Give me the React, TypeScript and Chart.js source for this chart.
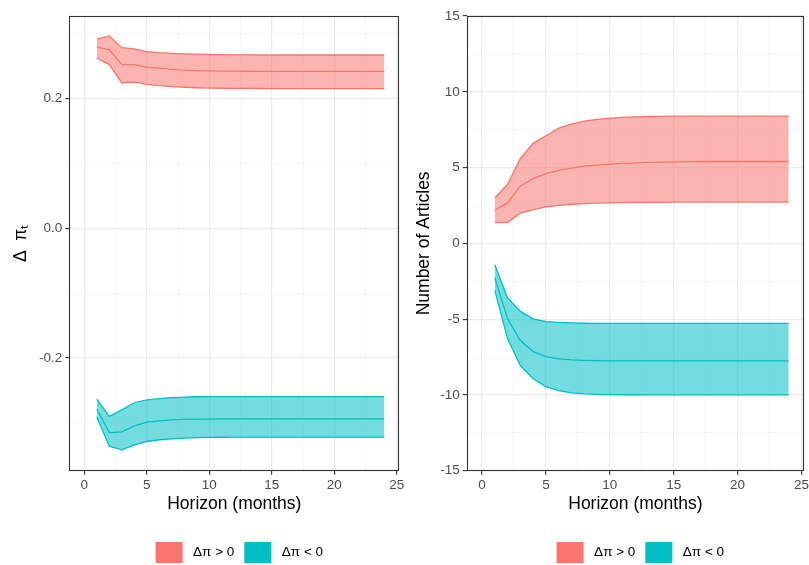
import React, { useEffect, useRef } from "react";
import { Chart, registerables } from "chart.js";

Chart.register(...registerables);

// ---------- data ----------
const horizon = [1, 2, 3, 4, 5, 6, 7, 8, 9, 10, 11, 12, 13, 14, 15, 16, 17, 18, 19, 20, 21, 22, 23, 24];

// Left panel: Δπ_t
const leftPosUpper = [0.291, 0.296, 0.278, 0.276, 0.272, 0.2703, 0.2693, 0.2686, 0.268, 0.2675, 0.2672, 0.267, 0.2668, 0.2667, 0.2667, 0.2667, 0.2667, 0.2667, 0.2667, 0.2667, 0.2667, 0.2667, 0.2667, 0.2667];
const leftPosMean = [0.279, 0.275, 0.252, 0.252, 0.248, 0.2466, 0.2445, 0.2435, 0.2428, 0.2423, 0.242, 0.2418, 0.2417, 0.2416, 0.2415, 0.2415, 0.2415, 0.2415, 0.2415, 0.2415, 0.2415, 0.2415, 0.2415, 0.2415];
const leftPosLower = [0.262, 0.252, 0.224, 0.225, 0.2215, 0.2195, 0.218, 0.217, 0.2163, 0.2158, 0.2155, 0.2153, 0.2152, 0.2151, 0.215, 0.215, 0.215, 0.215, 0.215, 0.215, 0.215, 0.215, 0.215, 0.215];
const leftNegUpper = [-0.2636, -0.29, -0.28, -0.269, -0.2646, -0.2626, -0.261, -0.2603, -0.2598, -0.2596, -0.2595, -0.2595, -0.2595, -0.2595, -0.2595, -0.2595, -0.2595, -0.2595, -0.2595, -0.2595, -0.2595, -0.2595, -0.2595, -0.2595];
const leftNegMean = [-0.279, -0.315, -0.314, -0.3046, -0.299, -0.297, -0.2954, -0.2947, -0.2943, -0.2941, -0.294, -0.294, -0.294, -0.294, -0.294, -0.294, -0.294, -0.294, -0.294, -0.294, -0.294, -0.294, -0.294, -0.294];
const leftNegLower = [-0.291, -0.336, -0.3415, -0.334, -0.3287, -0.326, -0.3246, -0.3235, -0.3228, -0.3224, -0.3222, -0.3221, -0.322, -0.322, -0.322, -0.322, -0.322, -0.322, -0.322, -0.322, -0.322, -0.322, -0.322, -0.322];

// Right panel: Number of Articles
const rightPosUpper = [2.99, 3.9, 5.6, 6.6, 7.1, 7.6, 7.87, 8.06, 8.18, 8.26, 8.31, 8.35, 8.37, 8.38, 8.39, 8.4, 8.4, 8.4, 8.4, 8.4, 8.4, 8.4, 8.4, 8.4];
const rightPosMean = [2.18, 2.67, 3.79, 4.27, 4.6, 4.82, 4.96, 5.09, 5.16, 5.22, 5.27, 5.31, 5.34, 5.36, 5.38, 5.39, 5.4, 5.4, 5.4, 5.4, 5.4, 5.4, 5.4, 5.4];
const rightPosLower = [1.39, 1.37, 2.0, 2.22, 2.4, 2.5, 2.58, 2.62, 2.65, 2.67, 2.69, 2.7, 2.71, 2.71, 2.72, 2.72, 2.72, 2.72, 2.72, 2.72, 2.72, 2.72, 2.72, 2.72];
const rightNegUpper = [-1.41, -3.61, -4.49, -4.98, -5.16, -5.22, -5.25, -5.27, -5.28, -5.28, -5.28, -5.28, -5.28, -5.28, -5.28, -5.28, -5.28, -5.28, -5.28, -5.28, -5.28, -5.28, -5.28, -5.28];
const rightNegMean = [-2.27, -4.98, -6.41, -7.14, -7.47, -7.62, -7.69, -7.72, -7.74, -7.75, -7.75, -7.75, -7.75, -7.75, -7.75, -7.75, -7.75, -7.75, -7.75, -7.75, -7.75, -7.75, -7.75, -7.75];
const rightNegLower = [-3.1, -6.3, -8.06, -8.94, -9.45, -9.72, -9.87, -9.93, -9.96, -9.98, -9.99, -9.99, -10.0, -10.0, -10.0, -10.0, -10.0, -10.0, -10.0, -10.0, -10.0, -10.0, -10.0, -10.0];

// ticks / labels
const xTicks = [0, 2.5, 5, 7.5, 10, 12.5, 15, 17.5, 20, 22.5, 25];
const leftYTicks = [-0.3, -0.2, -0.1, 0, 0.1, 0.2, 0.3];
const rightYTicks = [-15, -12.5, -10, -7.5, -5, -2.5, 0, 2.5, 5, 7.5, 10, 12.5, 15];
const legendLabels = ["Δπ > 0", "Δπ < 0"];
const xTitle = "Horizon (months)";
const leftYTitle = "Δ  πₜ";
const rightYTitle = "Number of Articles";

// ---------- styles ----------
const RED = "#F8766D";
const TEAL = "#00BFC4";
const RED_FILL = "rgba(248,118,109,0.55)";
const TEAL_FILL = "rgba(0,191,196,0.55)";
const FONT = "'Liberation Sans', Arial, Helvetica, sans-serif";
const TICK_SIZE = 13.5;
const TITLE_SIZE = 17.5;

const panelBorder = {
  id: "panelBorder",
  afterDatasetsDraw(chart: any) {
    const { ctx, chartArea: a } = chart;
    ctx.save();
    ctx.strokeStyle = "#333333";
    ctx.lineWidth = 1.1;
    const l = Math.round(a.left) + 0.5;
    const t = Math.round(a.top) + 0.5;
    const r = Math.round(a.right) - 0.5;
    const b = Math.round(a.bottom) - 0.5;
    ctx.strokeRect(l, t, r - l, b - t);
    ctx.restore();
  },
};

const legendShift = {
  id: "legendShift",
  beforeDraw(chart: any) {
    const lg = chart.legend;
    const a = chart.chartArea;
    if (lg && a) {
      lg.left = a.left + 5;
      lg.right = a.right + 5;
    }
  },
};

function pts(ys: number[]) {
  return horizon.map((x, i) => ({ x, y: ys[i] }));
}

function line(data: number[], color: string, fill: any, bg: string) {
  return {
    data: pts(data),
    borderColor: color,
    backgroundColor: bg,
    borderWidth: 1.3,
    pointRadius: 0,
    tension: 0,
    fill,
  };
}

function makeConfig(opts: {
  pos: number[][];
  neg: number[][];
  yMin: number;
  yMax: number;
  yTicks: number[];
  isMajorY: (v: number) => boolean;
  yLabel: (v: number) => string;
  yTitle: string;
  yWidth: number;
  yTitlePad: number;
  rightPad: number;
}) {
  const isMajorX = (v: number) => Math.abs(v % 5) < 1e-9;
  const gridColor = (major: boolean) => (major ? "#EBEBEB" : "#F3F3F3");
  return {
    type: "line",
    data: {
      datasets: [
        line(opts.pos[0], RED, 2, RED_FILL),
        line(opts.pos[1], RED, false, RED_FILL),
        line(opts.pos[2], RED, false, RED_FILL),
        line(opts.neg[0], TEAL, 5, TEAL_FILL),
        line(opts.neg[1], TEAL, false, TEAL_FILL),
        line(opts.neg[2], TEAL, false, TEAL_FILL),
      ],
    },
    options: {
      animation: false,
      responsive: false,
      maintainAspectRatio: false,
      devicePixelRatio: 1,
      layout: { padding: { left: 0, top: 16, right: opts.rightPad, bottom: 0 } },
      plugins: {
        tooltip: { enabled: false },
        legend: {
          display: true,
          position: "bottom",
          fullSize: false,
          maxHeight: 33,
          labels: {
            boxWidth: 27,
            boxHeight: 21,
            padding: 10,
            color: "#1A1A1A",
            font: { family: FONT, size: TICK_SIZE },
            generateLabels: () => [
              { text: " " + legendLabels[0], fillStyle: RED, strokeStyle: RED, lineWidth: 0, hidden: false, datasetIndex: 0 },
              { text: " " + legendLabels[1], fillStyle: TEAL, strokeStyle: TEAL, lineWidth: 0, hidden: false, datasetIndex: 3 },
            ],
          },
        },
      },
      scales: {
        x: {
          type: "linear",
          min: -1.2,
          max: 25.2,
          afterBuildTicks: (s: any) => {
            s.ticks = xTicks.map((v) => ({ value: v }));
          },
          afterFit: (s: any) => {
            s.height = 61.3;
            s.paddingLeft = 0;
            s.paddingRight = 0;
          },
          ticks: {
            autoSkip: false,
            maxRotation: 0,
            padding: 2,
            color: "#4D4D4D",
            font: { family: FONT, size: TICK_SIZE },
            callback: (v: any) => (isMajorX(v) ? String(v) : ""),
          },
          grid: {
            color: (c: any) => gridColor(isMajorX(c.tick.value)),
            lineWidth: (c: any) => (isMajorX(c.tick.value) ? 1.2 : 0.7),
            tickColor: (c: any) => (isMajorX(c.tick.value) ? "#333333" : "rgba(0,0,0,0)"),
            tickLength: 4,
            tickWidth: 1.1,
            drawTicks: true,
          },
          border: { display: false },
          title: {
            display: true,
            text: xTitle,
            color: "#000000",
            font: { family: FONT, size: TITLE_SIZE },
            padding: { top: 0, bottom: 17.5 },
          },
        },
        y: {
          type: "linear",
          min: opts.yMin,
          max: opts.yMax,
          afterBuildTicks: (s: any) => {
            s.ticks = opts.yTicks.map((v) => ({ value: v }));
          },
          afterFit: (s: any) => {
            s.width = opts.yWidth;
            s.paddingTop = 0;
            s.paddingBottom = 0;
          },
          ticks: {
            autoSkip: false,
            padding: 3,
            color: "#4D4D4D",
            font: { family: FONT, size: TICK_SIZE },
            callback: (v: any) => opts.yLabel(v),
          },
          grid: {
            color: (c: any) => gridColor(opts.isMajorY(c.tick.value)),
            lineWidth: (c: any) => (opts.isMajorY(c.tick.value) ? 1.2 : 0.7),
            tickColor: (c: any) => (opts.isMajorY(c.tick.value) ? "#333333" : "rgba(0,0,0,0)"),
            tickLength: 4,
            tickWidth: 1.1,
            drawTicks: true,
          },
          border: { display: false },
          title: {
            display: true,
            text: opts.yTitle,
            color: "#000000",
            font: { family: FONT, size: TITLE_SIZE },
            padding: { top: opts.yTitlePad, bottom: 0 },
          },
        },
      },
    },
    plugins: [panelBorder, legendShift],
  } as any;
}

export default function App() {
  const leftRef = useRef<HTMLCanvasElement | null>(null);
  const rightRef = useRef<HTMLCanvasElement | null>(null);

  useEffect(() => {
    const leftMajor = (v: number) => Math.round(v * 10) % 2 === 0;
    const left = new Chart(
      leftRef.current as HTMLCanvasElement,
      makeConfig({
        pos: [leftPosUpper, leftPosMean, leftPosLower],
        neg: [leftNegUpper, leftNegMean, leftNegLower],
        yMin: -0.3737,
        yMax: 0.3268,
        yTicks: leftYTicks,
        isMajorY: leftMajor,
        yLabel: (v) => (leftMajor(v) ? (Math.abs(v) < 1e-9 ? "0.0" : v.toFixed(1)) : ""),
        yTitle: leftYTitle,
        yWidth: 69.3,
        yTitlePad: 10.4,
        rightPad: 5.7,
      })
    );
    const rightMajor = (v: number) => Math.abs(v % 5) < 1e-9;
    const right = new Chart(
      rightRef.current as HTMLCanvasElement,
      makeConfig({
        pos: [rightPosUpper, rightPosMean, rightPosLower],
        neg: [rightNegUpper, rightNegMean, rightNegLower],
        yMin: -15,
        yMax: 15,
        yTicks: rightYTicks,
        isMajorY: rightMajor,
        yLabel: (v) => (rightMajor(v) ? String(v) : ""),
        yTitle: rightYTitle,
        yWidth: 61.7,
        yTitlePad: 8.4,
        rightPad: 5,
      })
    );
    return () => {
      left.destroy();
      right.destroy();
    };
  }, []);

  return (
    <div
      style={{
        position: "absolute",
        left: 0,
        top: 0,
        width: 809,
        height: 565,
        overflow: "hidden",
        background: "#FFFFFF",
      }}
    >
      <canvas
        ref={leftRef}
        width={405}
        height={565}
        style={{ position: "absolute", left: 0, top: 0, width: 405, height: 565 }}
      />
      <canvas
        ref={rightRef}
        width={404}
        height={565}
        style={{ position: "absolute", left: 405, top: 0, width: 404, height: 565 }}
      />
    </div>
  );
}
